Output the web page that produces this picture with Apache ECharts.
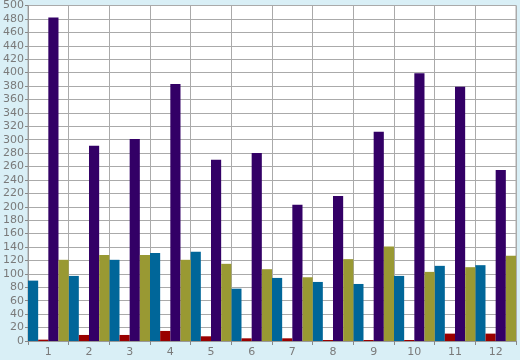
<!DOCTYPE html>
<html><head><meta charset="utf-8">
<script src="https://cdn.jsdelivr.net/npm/echarts@6/dist/echarts.min.js"></script>
<style>html,body{margin:0;padding:0;background:#d9eff6;}#c{width:520px;height:360px;}</style>
</head><body><div id="c"></div>
<script>
var categories = ['1','2','3','4','5','6','7','8','9','10','11','12'];
var tealValues = [90, 97, 121, 131, 133, 78, 94, 88, 85, 97, 112, 113];
var redValues = [2, 9, 9, 15, 7, 4, 4, 1.5, 1.5, 1.5, 11, 11];
var purpleValues = [482, 291, 301, 383, 270, 280, 203, 216, 312, 399, 379, 255];
var oliveValues = [121, 128, 128, 121, 115, 107, 95, 122, 141, 103, 110, 127];

var chart = echarts.init(document.getElementById('c'), null, {renderer: 'canvas'});
var labelFont = {color: '#7a7a7a', fontFamily: 'DejaVu Sans', fontSize: 11};
function bar(name, data, color) {
  return {name: name, type: 'bar', data: data, barGap: '0%', barCategoryGap: '0%',
    itemStyle: {color: color}, animation: false};
}
chart.setOption({
  backgroundColor: '#d9eff6',
  animation: false,
  grid: {left: 26, right: 4, top: 5, bottom: 19, show: true, backgroundColor: '#ffffff', borderColor: '#aaaaaa', borderWidth: 1},
  xAxis: {
    type: 'category', data: categories, boundaryGap: true,
    axisLine: {lineStyle: {color: '#999999'}},
    axisTick: {show: true, length: 4, interval: 0, lineStyle: {color: '#888888'}},
    axisLabel: Object.assign({margin: 6, interval: 0}, labelFont),
    splitLine: {show: true, interval: 0, lineStyle: {color: '#aaaaaa', width: 1}}
  },
  yAxis: {
    type: 'value', min: 0, max: 500, interval: 20,
    axisLine: {show: true, lineStyle: {color: '#999999'}},
    axisTick: {show: true, length: 3, lineStyle: {color: '#888888'}},
    axisLabel: Object.assign({margin: 4}, labelFont),
    splitLine: {show: true, lineStyle: {color: '#aaaaaa', width: 1}}
  },
  series: [
    bar('A', tealValues, '#006699'),
    bar('B', redValues, '#990000'),
    bar('C', purpleValues, '#330066'),
    bar('D', oliveValues, '#999933')
  ]
});
</script></body></html>
